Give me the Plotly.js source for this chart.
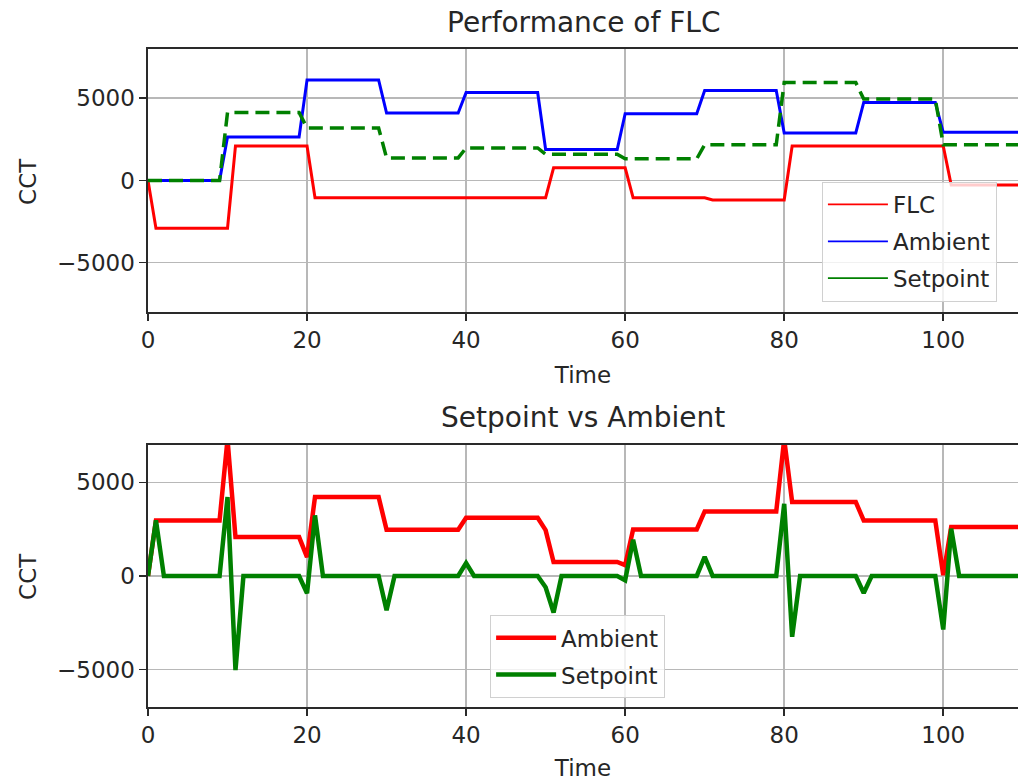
<!DOCTYPE html>
<html>
<head>
<meta charset="utf-8">
<script src="https://cdn.plot.ly/plotly-3.0.1.min.js"></script>
<style>html,body{margin:0;padding:0;background:#fff;}#chart{width:1018px;height:781px;}</style>
</head>
<body>
<div id="chart"></div>
<script>
// ---- Top panel: Performance of FLC ----
const flcTime = [0, 1, 10, 11, 20, 21, 50, 51, 60, 61, 70, 71, 80, 81, 100, 101, 110];
const flcCCT  = [0, -2900, -2900, 2100, 2100, -1050, -1050, 770, 770, -1050, -1050, -1180, -1180, 2100, 2100, -270, -270];

const topTime        = [0, 9, 10, 19, 20, 29, 30, 39, 40, 49, 50, 59, 60, 69, 70, 79, 80, 89, 90, 99, 100, 110];
const topAmbientCCT  = [0, 0, 2650, 2650, 6120, 6120, 4100, 4100, 5350, 5350, 1880, 1880, 4060, 4060, 5470, 5470, 2890, 2890, 4750, 4750, 2930, 2930];
const topSetpointCCT = [0, 0, 4140, 4140, 3190, 3190, 1375, 1375, 1980, 1980, 1600, 1600, 1315, 1315, 2180, 2180, 5960, 5960, 4950, 4950, 2180, 2180];

// ---- Bottom panel: Setpoint vs Ambient ----
const botAmbientTime = [0, 1, 9, 10, 11, 19, 20, 21, 29, 30, 39, 40, 49, 50, 51, 59, 60, 61, 69, 70, 79, 80, 81, 89, 90, 99, 100, 101, 110];
const botAmbientCCT  = [0, 2970, 2970, 7300, 2080, 2080, 1010, 4220, 4220, 2470, 2470, 3115, 3115, 2450, 750, 750, 580, 2490, 2490, 3450, 3450, 7300, 3950, 3950, 2970, 2970, 40, 2620, 2620];

const botSetpointTime = [0, 1, 2, 9, 10, 11, 12, 19, 20, 21, 22, 29, 30, 31, 39, 40, 41, 49, 50, 51, 52, 59, 60, 61, 62, 69, 70, 71, 79, 80, 81, 82, 89, 90, 91, 99, 100, 101, 102, 110];
const botSetpointCCT  = [0, 2970, 0, 0, 4220, -5030, 0, 0, -930, 3240, 0, 0, -1830, 0, 0, 695, 0, 0, -600, -1950, 0, 0, -230, 1940, 0, 0, 1015, 0, 0, 3860, -3250, 0, 0, -905, 0, 0, -2860, 2530, 0, 0];

// ---- labels ----
const topTitle = 'Performance of FLC';
const botTitle = 'Setpoint vs Ambient';
const xLabel = 'Time';
const yLabel = 'CCT';
const xTicks = [0, 20, 40, 60, 80, 100];
const yTicks = [-5000, 0, 5000];

const RED = '#ff0000', BLUE = '#0000ff', GREEN = '#008000';
const FONT = 'DejaVu Sans, sans-serif';
const TXT = '#262626';

const traces = [
  {x: flcTime, y: flcCCT, xaxis: 'x', yaxis: 'y', mode: 'lines', line: {color: RED, width: 3}, showlegend: false, name: 'FLC'},
  {x: topTime, y: topAmbientCCT, xaxis: 'x', yaxis: 'y', mode: 'lines', line: {color: BLUE, width: 3}, showlegend: false, name: 'Ambient'},
  {x: topTime, y: topSetpointCCT, xaxis: 'x', yaxis: 'y', mode: 'lines', line: {color: GREEN, width: 3.5, dash: '14px,7px'}, showlegend: false, name: 'Setpoint'},
  // legend entries for the top panel (thin solid samples, as in the reference)
  {x: [null], y: [null], xaxis: 'x', yaxis: 'y', mode: 'lines', line: {color: RED, width: 1.8}, name: 'FLC', legend: 'legend', legendgroup: 'a'},
  {x: [null], y: [null], xaxis: 'x', yaxis: 'y', mode: 'lines', line: {color: BLUE, width: 1.8}, name: 'Ambient', legend: 'legend', legendgroup: 'b'},
  {x: [null], y: [null], xaxis: 'x', yaxis: 'y', mode: 'lines', line: {color: GREEN, width: 1.8}, name: 'Setpoint', legend: 'legend', legendgroup: 'c'},
  // bottom panel
  {x: botAmbientTime, y: botAmbientCCT, xaxis: 'x2', yaxis: 'y2', mode: 'lines', line: {color: RED, width: 4.5}, name: 'Ambient', legend: 'legend2', legendgroup: 'd'},
  {x: botSetpointTime, y: botSetpointCCT, xaxis: 'x2', yaxis: 'y2', mode: 'lines', line: {color: GREEN, width: 4.5}, name: 'Setpoint', legend: 'legend2', legendgroup: 'e'}
];

function xax(anchor, standoff) {
  return {
    anchor: anchor, domain: [0, 1], range: [0, 109.4], tickvals: xTicks,
    showgrid: true, gridcolor: '#b8b8b8', gridwidth: 1.6, zeroline: false,
    showline: true, mirror: true, linecolor: '#2a2a2a', linewidth: 1.6,
    ticks: 'outside', ticklen: 7, tickwidth: 1.6, tickcolor: '#2a2a2a',
    tickfont: {family: FONT, size: 23, color: TXT},
    title: {text: xLabel, font: {family: FONT, size: 23, color: TXT}, standoff: standoff}
  };
}
function yax(anchor, domain, range) {
  return {
    anchor: anchor, domain: domain, range: range, tickvals: yTicks,
    showgrid: true, gridcolor: '#b8b8b8', gridwidth: 1.6, zeroline: false,
    showline: true, mirror: true, linecolor: '#2a2a2a', linewidth: 1.6,
    ticks: 'outside', ticklen: 7, tickwidth: 1.6, tickcolor: '#2a2a2a',
    tickfont: {family: FONT, size: 23, color: TXT}
  };
}

const legendCommon = {
  xanchor: 'left', yanchor: 'top', bgcolor: 'rgba(255,255,255,0.8)',
  bordercolor: '#d0d0d0', borderwidth: 1.2,
  font: {family: FONT, size: 23, color: TXT}, tracegroupgap: 4,
  itemwidth: 60
};

const layout = {
  width: 1018, height: 781,
  margin: {l: 148, r: 0, t: 0, b: 0},
  paper_bgcolor: '#ffffff', plot_bgcolor: '#ffffff',
  font: {family: FONT, color: TXT},
  xaxis: xax('y', 14),
  yaxis: yax('x', [0.6005, 0.9373], [-8000, 8000]),
  xaxis2: xax('y2', 15),
  yaxis2: yax('x2', [0.0948, 0.4302], [-7000, 7000]),
  legend: Object.assign({x: 0.7744, y: 0.7673}, legendCommon),
  legend2: Object.assign({x: 0.393, y: 0.2125}, legendCommon),
  annotations: [
    {text: topTitle, xref: 'paper', yref: 'paper', x: 0.5, y: 0.9718, xanchor: 'center', yanchor: 'middle', showarrow: false, font: {family: FONT, size: 28, color: TXT}},
    {text: botTitle, xref: 'paper', yref: 'paper', x: 0.5, y: 0.4648, xanchor: 'center', yanchor: 'middle', showarrow: false, font: {family: FONT, size: 28, color: TXT}},
    {text: yLabel, xref: 'paper', yref: 'paper', x: -0.138, y: 0.7683, xanchor: 'center', yanchor: 'middle', textangle: -90, showarrow: false, font: {family: FONT, size: 23, color: TXT}},
    {text: yLabel, xref: 'paper', yref: 'paper', x: -0.138, y: 0.2625, xanchor: 'center', yanchor: 'middle', textangle: -90, showarrow: false, font: {family: FONT, size: 23, color: TXT}}
  ]
};

Plotly.newPlot('chart', traces, layout, {displayModeBar: false, staticPlot: true});
</script>
</body>
</html>
